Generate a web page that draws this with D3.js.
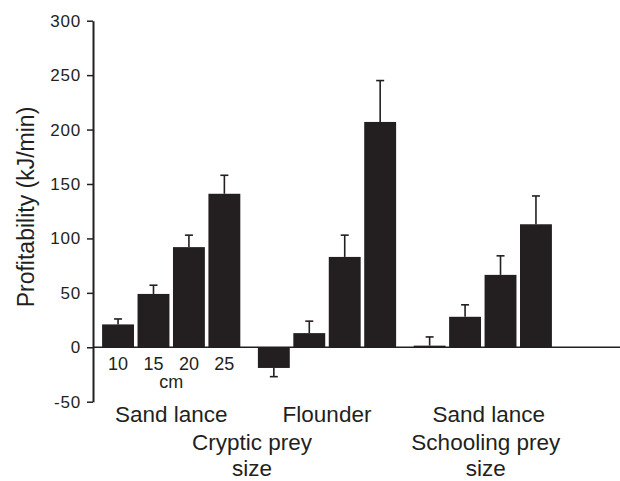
<!DOCTYPE html>
<html>
<head>
<meta charset="utf-8">
<script src="https://cdn.jsdelivr.net/npm/d3@7"></script>
<style>
  body { margin: 0; background: #fff; }
  svg { display: block; font-family: "Liberation Sans", Arial, Helvetica, sans-serif; }
  text { fill: #231f20; }
</style>
</head>
<body>
<svg class="chart" width="620" height="481"></svg>
<script>
// prey groups along the x axis
const groupLabels = ["Sand lance", "Flounder", "Sand lance"];
const sizeLabels = ["10", "15", "20", "25"];

// mean profitability (kJ/min) per size, one array per group
const crypticSandLance = [21, 49, 92, 141];
const crypticFlounder = [-19, 13, 83, 207];
const schoolingSandLance = [1.5, 28, 66.5, 113];

// standard errors (drawn away from zero)
const crypticSandLanceErr = [5, 8, 11, 17];
const crypticFlounderErr = [8, 11, 20, 38];
const schoolingSandLanceErr = [8, 11, 17.5, 26];

const yTicks = [-50, 0, 50, 100, 150, 200, 250, 300];

const seriesValues = [crypticSandLance, crypticFlounder, schoolingSandLance];
const seriesErrors = [crypticSandLanceErr, crypticFlounderErr, schoolingSandLanceErr];

const ink = "#231f20";
const svg = d3.select(".chart");

const y = d3.scaleLinear().domain([-50, 300]).range([401.7, 20.7]);

const xGroup = d3.scaleBand()
    .domain(d3.range(groupLabels.length))
    .range([93, 561])
    .paddingInner(0.09)
    .paddingOuter(0.047);

const xSize = d3.scaleBand()
    .domain(sizeLabels)
    .range([0, xGroup.bandwidth()])
    .paddingInner(0.1)
    .paddingOuter(0.05);

// flat list of bars
const bars = [];
seriesValues.forEach((vals, g) => {
    vals.forEach((v, i) => {
        bars.push({ group: g, size: sizeLabels[i], value: v, err: seriesErrors[g][i] });
    });
});

const barX = d => xGroup(d.group) + xSize(d.size);
const barMid = d => barX(d) + xSize.bandwidth() / 2;

// zero baseline across the plot
svg.append("line")
    .attr("x1", 93).attr("x2", 620)
    .attr("y1", y(0)).attr("y2", y(0))
    .attr("stroke", ink)
    .attr("stroke-width", 1.5);

// error bars
const errG = svg.append("g").attr("stroke", ink).attr("stroke-width", 1.6);
bars.forEach(d => {
    const end = d.value >= 0 ? d.value + d.err : d.value - d.err;
    const cx = barMid(d);
    errG.append("line")
        .attr("x1", cx).attr("x2", cx)
        .attr("y1", y(d.value)).attr("y2", y(end));
    errG.append("line")
        .attr("x1", cx - 4).attr("x2", cx + 4)
        .attr("y1", y(end)).attr("y2", y(end));
});

// bars
svg.append("g")
    .selectAll("rect")
    .data(bars)
    .join("rect")
    .attr("x", barX)
    .attr("width", xSize.bandwidth())
    .attr("y", d => y(Math.max(0, d.value)))
    .attr("height", d => Math.abs(y(d.value) - y(0)))
    .attr("fill", ink);

// y axis (plain hyphen for negatives, as in the original)
const yAxis = svg.append("g")
    .attr("transform", "translate(93,0)")
    .call(d3.axisLeft(y).tickValues(yTicks).tickFormat(d => String(d))
        .tickSize(6).tickSizeOuter(0).tickPadding(6));
yAxis.select(".domain").attr("stroke", ink).attr("stroke-width", 2);
yAxis.selectAll(".tick line").attr("stroke", ink).attr("stroke-width", 1.5);
yAxis.selectAll(".tick text")
    .attr("fill", ink)
    .style("font-size", "17px")
    .style("letter-spacing", "0.8px")
    .style("font-family", "'Liberation Sans', Arial, sans-serif");

svg.append("text")
    .attr("transform", "translate(34,207) rotate(-90)")
    .attr("text-anchor", "middle")
    .style("font-size", "23px")
    .text("Profitability (kJ/min)");

// size labels under the first group
svg.append("g")
    .selectAll("text")
    .data(sizeLabels)
    .join("text")
    .attr("x", s => xGroup(0) + xSize(s) + xSize.bandwidth() / 2)
    .attr("y", 370)
    .attr("text-anchor", "middle")
    .style("font-size", "18px")
    .text(s => s);

svg.append("text")
    .attr("x", xGroup(0) + (xSize("15") + xSize("20") + xSize.bandwidth()) / 2)
    .attr("y", 388)
    .attr("text-anchor", "middle")
    .style("font-size", "18px")
    .text("cm");

// group labels
svg.append("g")
    .selectAll("text")
    .data(groupLabels)
    .join("text")
    .attr("x", (d, i) => xGroup(i) + xGroup.bandwidth() / 2 + (i === 2 ? 6 : 0))
    .attr("y", 422)
    .attr("text-anchor", "middle")
    .style("font-size", "22.5px")
    .text(d => d);

// prey type captions
const crypticX = (xGroup(0) + xGroup(1) + xGroup.bandwidth()) / 2 + 3;
const schoolX = xGroup(2) + xGroup.bandwidth() / 2 + 3;
[[crypticX, "Cryptic prey"], [schoolX, "Schooling prey"]].forEach(([cx, label]) => {
    svg.append("text")
        .attr("x", cx).attr("y", 450)
        .attr("text-anchor", "middle")
        .style("font-size", "22.5px")
        .text(label);
    svg.append("text")
        .attr("x", cx).attr("y", 476)
        .attr("text-anchor", "middle")
        .style("font-size", "22.5px")
        .text("size");
});
</script>
</body>
</html>
